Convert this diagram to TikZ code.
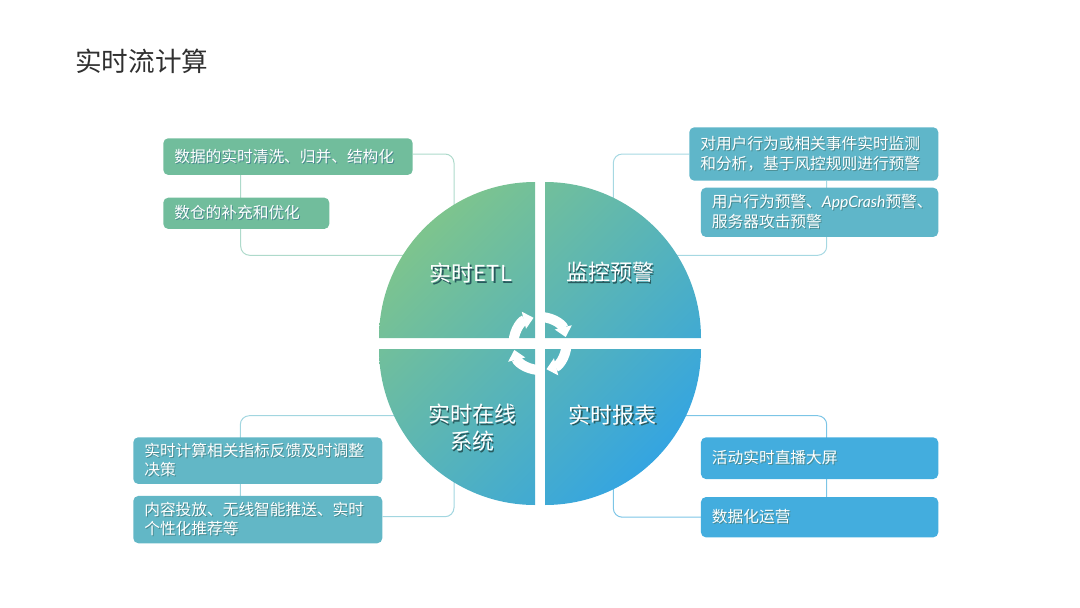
\documentclass[tikz,border=0pt]{standalone}
\usepackage{fontspec}
\setmainfont{Noto Sans CJK SC}
\newfontfamily\appfont{Lato}
\usetikzlibrary{positioning,backgrounds,arrows.meta}

\definecolor{titleink}{HTML}{303030}
\definecolor{etlbox}{HTML}{71BD9C}
\definecolor{alertbox}{HTML}{5FB6C9}
\definecolor{onlinebox}{HTML}{62B7C6}
\definecolor{reportbox}{HTML}{43ADDE}
\definecolor{etlline}{HTML}{AEDACB}
\definecolor{alertline}{HTML}{A6D8E2}
\definecolor{onlineline}{HTML}{A2D6E0}
\definecolor{reportline}{HTML}{7CC5E6}
\definecolor{fanstart}{HTML}{7DC48E}
\definecolor{fanend}{HTML}{35A5E0}
\definecolor{textshade}{HTML}{4A8A90}
\definecolor{labelshade}{HTML}{285A5E}

\newcommand{\shtext}[2][1pt]{\makebox[0pt][l]{\hspace{#1}\raisebox{-#1}{\textcolor{textshade}{#2}}}#2}
\newcommand{\shlabel}[1]{\makebox[0pt][l]{\hspace{1.8pt}\raisebox{-1.8pt}{\textcolor{labelshade}{#1}}}#1}

\begin{document}
\begin{tikzpicture}[x=1pt, y=-1pt,
    leafbox/.style={rounded corners=5pt, text=white, align=left, anchor=center,
        inner xsep=11pt, inner ysep=0pt, font=\fontsize{15.7}{19.6}\selectfont},
    fanlabel/.style={text=white, align=center, inner sep=0pt, font=\fontsize{22}{27}\selectfont},
    link/.style={line width=1pt, rounded corners=9pt},
    cyclearrow/.style={white, line width=10pt, -{Triangle[length=10pt, width=17pt]}}]
    \useasboundingbox (0,0) rectangle (1080,608);

    % title
    \node[text=titleink, inner sep=0pt, anchor=west, font=\fontsize{26.6}{30}\selectfont] (title) at (75,61) {实时流计算};

    % boxes
    \node[leafbox, fill=etlbox, text width=227.4pt, minimum height=36.7pt] (clean) at (288,156.6) {\shtext{数据的实时清洗、归并、结构化}};
    \node[leafbox, fill=etlbox, text width=144pt, minimum height=31.3pt] (refine) at (246.3,213.3) {\shtext{数仓的补充和优化}};

    \node[leafbox, fill=alertbox, text width=227pt, minimum height=53.4pt] (rules) at (813.8,154) {\shtext{对用户行为或相关事件实时监测}\\\shtext{和分析，基于风控规则进行预警}};
    \node[leafbox, fill=alertbox, text width=215.3pt, minimum height=49.3pt] (warn) at (819.6,212.3) {\shtext{用户行为预警、{\appfont\itshape AppCrash}预警、}\\\shtext{服务器攻击预警}};

    \node[leafbox, fill=onlinebox, text width=227pt, minimum height=46.7pt] (feedback) at (257.8,460.6) {\shtext{实时计算相关指标反馈及时调整}\\\shtext{决策}};
    \node[leafbox, fill=onlinebox, text width=227pt, minimum height=47.3pt] (push) at (257.8,519.6) {\shtext{内容投放、无线智能推送、实时}\\\shtext{个性化推荐等}};

    \node[leafbox, fill=reportbox, text width=215.3pt, minimum height=41.7pt] (bigscreen) at (819.6,458.2) {\shtext{活动实时直播大屏}};
    \node[leafbox, fill=reportbox, text width=215.3pt, minimum height=40.3pt] (ops) at (819.6,517.2) {\shtext{数据化运营}};

    % connector ends, hidden under the fan
    \coordinate (etlA) at (454,240);
    \coordinate (etlB) at (430,255.3);
    \coordinate (alertA) at (613.3,240);
    \coordinate (alertB) at (650,255.3);
    \coordinate (onlineA) at (430,415.7);
    \coordinate (onlineB) at (454,450);
    \coordinate (reportA) at (650,415.7);
    \coordinate (reportB) at (613.3,450);

    % connectors
    \begin{scope}[on background layer]
        \draw[link, etlline] ([yshift=2.6pt]clean.east) -| (etlA);
        \draw[link, etlline] ([xshift=-47.3pt]clean.south) |- (etlB);
        \draw[link, alertline] (rules.west) -| (alertA);
        \draw[link, alertline] ([xshift=12.9pt]rules.south) |- (alertB);
        \draw[link, onlineline] ([xshift=-17.5pt]push.north) |- (onlineA);
        \draw[link, onlineline] ([yshift=2.9pt]push.east) -| (onlineB);
        \draw[link, reportline] ([xshift=7.1pt]ops.north) |- (reportA);
        \draw[link, reportline] (ops.west) -| (reportB);
    \end{scope}

    % fan
    \begin{scope}
        \clip (535,338) -- (379,338) arc[start angle=180, end angle=90, radius=156pt] -- cycle
              (545,338) -- (701,338) arc[start angle=0, end angle=90, radius=156pt] -- cycle
              (535,349) -- (379,349) arc[start angle=180, end angle=270, radius=156pt] -- cycle
              (545,349) -- (701,349) arc[start angle=0, end angle=-90, radius=156pt] -- cycle;
        \shade[shading=axis, left color=fanstart, right color=fanend, shading angle=45] (379,182) rectangle (701,505);
    \end{scope}

    % fan labels
    \node[fanlabel] (etl) at (471,274) {\shlabel{实时ETL}};
    \node[fanlabel] (alert) at (610,273.5) {\shlabel{监控预警}};
    \node[fanlabel] (online) at (472,428.5) {\shlabel{实时在线}\\\shlabel{系统}};
    \node[fanlabel] (report) at (612.5,415.5) {\shlabel{实时报表}};

    % cycle arrows
    \coordinate (hub) at (540,343.5);
    \foreach \ang in {188,98,8,-82}
        \draw[cyclearrow] (hub) ++(\ang:26.5pt) arc[start angle=\ang, end angle=\ang-84, radius=26.5pt];
\end{tikzpicture}
\end{document}
